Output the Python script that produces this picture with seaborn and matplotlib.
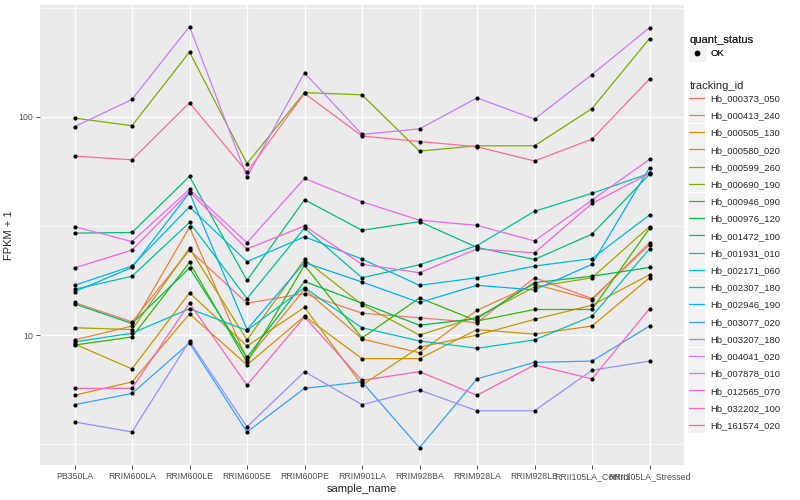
import pandas as pd
import matplotlib
matplotlib.use("Agg")
import matplotlib.pyplot as plt
from matplotlib.lines import Line2D
from matplotlib.patches import Rectangle
import seaborn as sns

samples = ["PB350LA", "RRIM600LA", "RRIM600LE", "RRIM600SE", "RRIM600PE",
           "RRIM901LA", "RRIM928BA", "RRIM928LA", "RRIM928LE",
           "RRII105LA_Control", "RRII105LA_Stressed"]

tracking_ids = ["Hb_000373_050", "Hb_000413_240", "Hb_000505_130", "Hb_000580_020",
                "Hb_000599_260", "Hb_000690_190", "Hb_000946_090", "Hb_000976_120",
                "Hb_001472_100", "Hb_001931_010", "Hb_002171_060", "Hb_002307_180",
                "Hb_002946_190", "Hb_003077_020", "Hb_003207_180", "Hb_004041_020",
                "Hb_007878_010", "Hb_012565_070", "Hb_032202_100", "Hb_161574_020"]

# FPKM + 1, one list per tracking_id, in sample order
Hb_000373_050 = [14.1, 11.5, 24.5, 14.0, 15.5, 12.6, 12.0, 11.4, 18.3, 14.7, 25.9]
Hb_000413_240 = [9.5, 11.0, 31.2, 7.7, 16.2, 9.6, 8.3, 13.0, 17.1, 14.5, 26.5]
Hb_000505_130 = [5.3, 6.1, 12.5, 7.3, 12.2, 7.8, 7.8, 10.6, 10.1, 11.0, 18.3]
Hb_000580_020 = [9.1, 7.0, 15.6, 8.9, 13.4, 5.9, 8.8, 10.0, 11.8, 13.7, 18.9]
Hb_000599_260 = [10.8, 10.6, 25.0, 9.5, 22.2, 13.8, 10.0, 12.1, 16.6, 18.3, 31.4]
Hb_000690_190 = [98.6, 91.0, 198.0, 61.0, 129.0, 126.0, 69.6, 73.6, 73.6, 109.0, 228.0]
Hb_000946_090 = [9.0, 9.8, 21.5, 7.5, 20.9, 9.7, 14.8, 11.6, 13.1, 13.1, 30.8]
Hb_000976_120 = [13.9, 11.3, 20.3, 7.9, 17.6, 14.0, 11.1, 11.9, 17.4, 18.6, 20.4]
Hb_001472_100 = [29.3, 29.5, 53.3, 17.8, 41.7, 30.2, 33.1, 25.2, 22.2, 29.0, 54.5]
Hb_001931_010 = [16.2, 18.6, 32.8, 14.7, 30.9, 18.3, 21.0, 25.7, 36.9, 44.6, 55.0]
Hb_002171_060 = [9.3, 10.2, 13.2, 10.5, 16.5, 10.8, 9.4, 8.7, 9.5, 12.2, 24.8]
Hb_002307_180 = [16.9, 20.7, 38.7, 21.7, 28.2, 22.3, 16.9, 18.3, 20.7, 22.4, 35.5]
Hb_002946_190 = [15.8, 20.4, 44.9, 10.6, 21.5, 17.5, 14.1, 16.9, 16.1, 21.1, 58.4]
Hb_003077_020 = [4.8, 5.4, 9.2, 3.6, 5.7, 6.1, 3.05, 6.3, 7.5, 7.6, 11.0]
Hb_003207_180 = [4.0, 3.6, 9.4, 3.8, 6.8, 4.8, 5.6, 4.5, 4.5, 6.9, 7.6]
Hb_004041_020 = [90.0, 120.0, 259.0, 53.0, 159.0, 83.0, 88.0, 122.0, 97.6, 156.0, 256.0]
Hb_007878_010 = [31.4, 26.8, 46.5, 26.5, 52.2, 40.8, 33.6, 31.8, 27.0, 41.5, 63.8]
Hb_012565_070 = [20.3, 24.5, 45.3, 24.8, 31.6, 21.1, 19.3, 24.8, 23.8, 40.1, 55.0]
Hb_032202_100 = [5.7, 5.7, 14.0, 5.9, 12.1, 6.2, 6.8, 5.3, 7.3, 6.3, 13.2]
Hb_161574_020 = [66.0, 63.5, 116.0, 55.8, 128.0, 81.6, 77.0, 72.9, 62.7, 79.0, 149.0]

values = [Hb_000373_050, Hb_000413_240, Hb_000505_130, Hb_000580_020, Hb_000599_260,
          Hb_000690_190, Hb_000946_090, Hb_000976_120, Hb_001472_100, Hb_001931_010,
          Hb_002171_060, Hb_002307_180, Hb_002946_190, Hb_003077_020, Hb_003207_180,
          Hb_004041_020, Hb_007878_010, Hb_012565_070, Hb_032202_100, Hb_161574_020]

# ggplot2 default hue palette for 20 levels
palette = ["#F8766D", "#EA8331", "#D89000", "#C09B00", "#A3A500", "#7CAE00", "#39B600",
           "#00BB4E", "#00BF7D", "#00C1A3", "#00BFC4", "#00BAE0", "#00B0F6", "#35A2FF",
           "#9590FF", "#C77CFF", "#E76BF3", "#FA62DB", "#FF62BC", "#FF6C91"]

rows = []
for tid, vals in zip(tracking_ids, values):
    for s, v in zip(samples, vals):
        rows.append({"tracking_id": tid, "sample_name": s, "fpkm": v, "quant_status": "OK"})
df = pd.DataFrame(rows)
df["x"] = df["sample_name"].map({s: i for i, s in enumerate(samples)})

sns.set_theme(style="darkgrid", rc={
    "axes.facecolor": "#EBEBEB",
    "grid.color": "white",
    "axes.edgecolor": "#EBEBEB",
})
plt.rcParams["font.family"] = ["Liberation Sans", "DejaVu Sans"]

fig = plt.figure(figsize=(8, 5), dpi=100)
ax = fig.add_axes([0.05, 0.07, 0.805, 0.92])

sns.lineplot(data=df, x="x", y="fpkm", hue="tracking_id", hue_order=tracking_ids,
             palette=palette, linewidth=0.9, legend=False, ax=ax, estimator=None, sort=False)
sns.scatterplot(data=df, x="x", y="fpkm", color="black", s=9, linewidth=0,
                legend=False, ax=ax, zorder=3)

ax.set_yscale("log")
ax.set_ylim(2.54, 325)
ax.set_xlim(-0.6, len(samples) - 0.4)
ax.set_xticks(range(len(samples)))
ax.set_xticklabels(samples, fontsize=6.3, color="#4D4D4D")
ax.set_yticks([10, 100])
ax.set_yticklabels(["10", "100"], fontsize=6.3, color="#4D4D4D")
ax.set_yticks([10 ** 0.5, 10 ** 1.5, 10 ** 2.5], minor=True)
ax.yaxis.set_minor_formatter(plt.NullFormatter())
ax.grid(which="major", color="white", linewidth=1.0)
ax.grid(which="minor", axis="y", color="white", linewidth=0.5)
ax.tick_params(axis="both", which="major", length=3, width=0.6, color="#333333", pad=2,
               bottom=True, left=True)
ax.tick_params(axis="y", which="minor", length=0)
ax.set_xlabel("sample_name", fontsize=8, labelpad=2)
ax.set_ylabel("FPKM + 1", fontsize=8, labelpad=3)
for sp in ax.spines.values():
    sp.set_visible(False)

# legends in ggplot style
h1 = [Line2D([0], [0], marker="o", color="none", markerfacecolor="black",
             markeredgecolor="black", markersize=3)]
leg1 = fig.legend(h1, ["OK"], title="quant_status", loc="upper left",
                  bbox_to_anchor=(0.857, 0.938), frameon=False, fontsize=6.8,
                  title_fontsize=8, handlelength=1.6, handletextpad=0.6,
                  alignment="left", borderaxespad=0)
h2 = [Line2D([0], [0], color=c, linewidth=0.9) for c in palette]
leg2 = fig.legend(h2, tracking_ids, title="tracking_id", loc="upper left",
                  bbox_to_anchor=(0.857, 0.845), frameon=False, fontsize=6.8,
                  title_fontsize=8, handlelength=1.6, handletextpad=0.6,
                  labelspacing=0.87, alignment="left", borderaxespad=0)
leg2._legend_box.sep = 2
fig.add_artist(leg1)

# grey key boxes behind legend keys
fig.canvas.draw()
renderer = fig.canvas.get_renderer()
W, H = fig.bbox.width, fig.bbox.height
for h in list(leg1.legend_handles) + list(leg2.legend_handles):
    bb = h.get_window_extent(renderer)
    cx, cy = (bb.x0 + bb.x1) / 2, (bb.y0 + bb.y1) / 2
    if leg1.legend_handles[0] is h:
        cx = leg2.legend_handles[0].get_window_extent(renderer).x0 + 8
    fig.add_artist(Rectangle(((cx - 8.5) / W, (cy - 8.5) / H), 17 / W, 17 / H,
                             transform=fig.transFigure, facecolor="#F2F2F2",
                             edgecolor="none", zorder=1))

fig.savefig("out.png", dpi=100)
